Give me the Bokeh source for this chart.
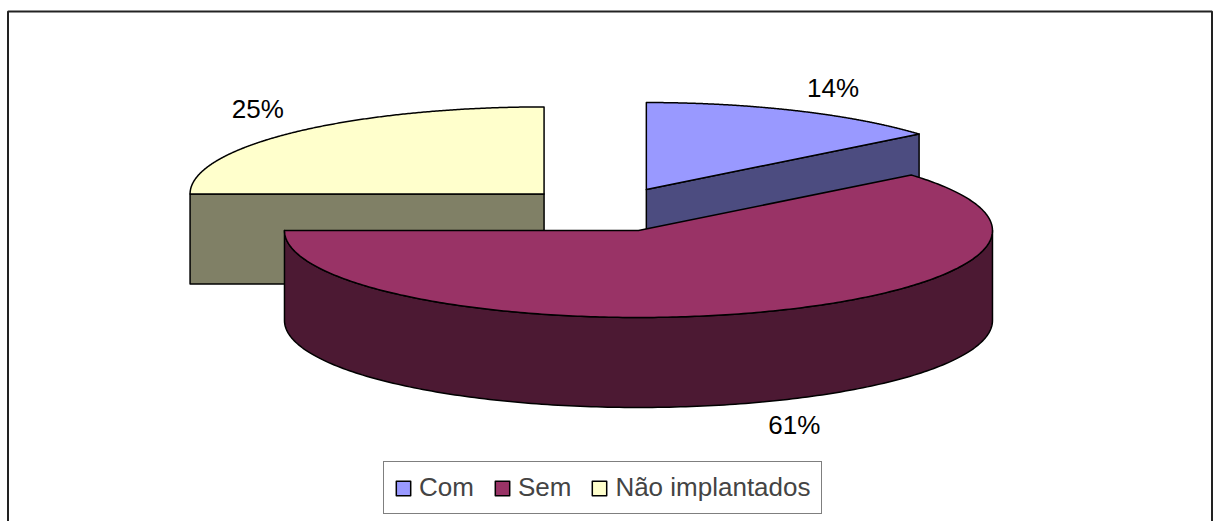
import numpy as np
from bokeh.plotting import figure
from bokeh.models import Range1d, Legend, LegendItem
from bokeh.core.properties import value
from bokeh.embed import file_html
from bokeh.resources import INLINE

# ---- data ----
categories = ["Com", "Sem", "Não implantados"]
percent = [14, 61, 25]
label_text = ["14%", "61%", "25%"]
top_colors = ["#9999FF", "#993366", "#FFFFCC"]
side_colors = ["#4C4C80", "#4C1933", "#808066"]

# ---- layout (picture pixel coordinates) ----
CX, CY = 607.4, 209.1      # pie centre before explosion
RX, RY = 354.0, 87.0       # ellipse radii of the tilted pie
DEPTH = 90.0               # thickness of the 3D pie
EXPLODE = 0.255            # explosion distance (fraction of radius)
LBL_DX, LBL_DY = 36.0, 23.0
FONT = "Liberation Sans"
W, H = 1213, 521

p = figure(width=W, height=H, x_range=Range1d(0, W), y_range=Range1d(H, 0),
           output_backend="svg", toolbar_location=None, min_border=0,
           x_axis_type=None, y_axis_type=None)
p.outline_line_color = None
p.background_fill_color = "white"

# outer chart frame
p.quad(left=[7.5], right=[1211.5], top=[11], bottom=[540], fill_color=None,
       line_color="#222222", line_width=2)


def rim(cx, cy, th_deg, dz=0.0):
    th = np.radians(th_deg)
    return cx + RX * np.sin(th), cy - RY * np.cos(th) + dz


total = float(sum(percent))
slices = []
start = 0.0
for i, v in enumerate(percent):
    a0 = start
    a1 = start + 360.0 * v / total
    start = a1
    mid = np.radians((a0 + a1) / 2)
    mx, my = np.sin(mid), -np.cos(mid)
    scx = CX + EXPLODE * RX * mx
    scy = CY + EXPLODE * RY * my
    slices.append(dict(i=i, a0=a0, a1=a1, mx=mx, my=my, cx=scx, cy=scy))

top_renderers = {}
for s in sorted(slices, key=lambda d: d["cy"]):
    i, a0, a1, cx, cy = s["i"], s["a0"], s["a1"], s["cx"], s["cy"]
    xs, ys = [], []
    # radial cut faces
    for ang, visible in ((a0, np.sin(np.radians(a0)) < -1e-6),
                         (a1, np.sin(np.radians(a1)) > 1e-6)):
        if visible:
            rx_, ry_ = rim(cx, cy, ang)
            xs.append([cx, rx_, rx_, cx])
            ys.append([cy, ry_, ry_ + DEPTH, cy + DEPTH])
    # outer curved wall (front half only)
    lo, hi = max(a0, 90.0), min(a1, 270.0)
    if hi > lo:
        th = np.linspace(lo, hi, 200)
        tx, ty = rim(cx, cy, th)
        bx, by = rim(cx, cy, th[::-1], DEPTH)
        xs.append(list(tx) + list(bx))
        ys.append(list(ty) + list(by))
    if xs:
        p.patches(xs=xs, ys=ys, fill_color=side_colors[i], line_color="black",
                  line_width=1.5, line_join="round")
    # top face
    th = np.linspace(a0, a1, 300)
    tx, ty = rim(cx, cy, th)
    r = p.patch(x=[cx] + list(tx) + [cx], y=[cy] + list(ty) + [cy],
                fill_color=top_colors[i], line_color="black", line_width=1.5,
                line_join="round")
    top_renderers[i] = r

# percentage labels
lx, ly = [], []
for s in slices:
    px, py = rim(s["cx"], s["cy"], (s["a0"] + s["a1"]) / 2)
    if s["my"] > 0:
        py += DEPTH
    lx.append(px + np.sign(s["mx"]) * LBL_DX)
    ly.append(py + np.sign(s["my"]) * LBL_DY)
p.text(x=lx, y=ly, text=label_text, text_font=value(FONT), text_font_size="26px",
       text_color="black", text_align="center", text_baseline="middle")

legend = Legend(
    items=[LegendItem(label=categories[i], renderers=[top_renderers[i]]) for i in range(len(categories))],
    orientation="horizontal", location=(383, 7),
    glyph_width=18, glyph_height=18, label_standoff=7, spacing=19, padding=10, margin=0,
    border_line_color="black", border_line_width=1.5,
    label_text_font=FONT, label_text_font_size="26px",
    background_fill_color="white", background_fill_alpha=1.0,
)
p.add_layout(legend, "center")

open("out.html", "w").write(file_html(p, INLINE))
